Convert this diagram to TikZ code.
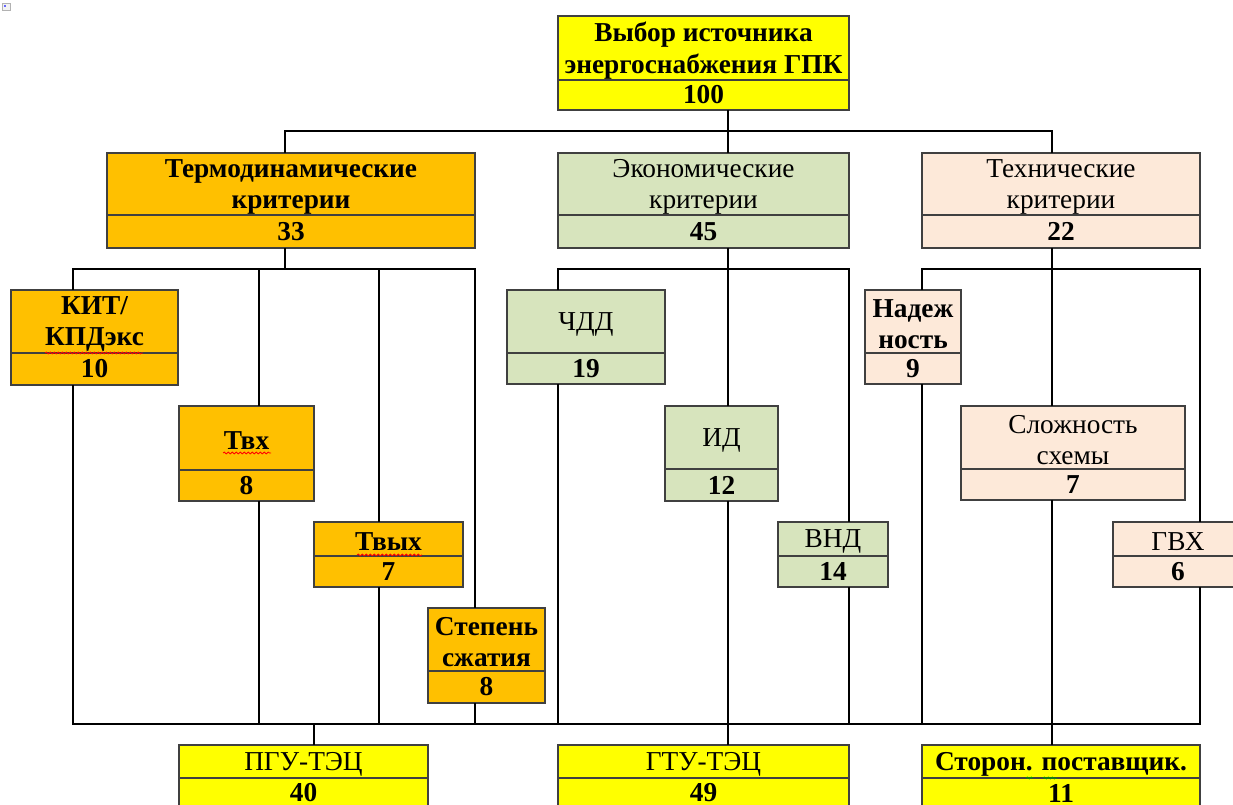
\documentclass[tikz,border=0pt]{standalone}
\usepackage{fontspec}
\setmainfont{Liberation Serif}
\usetikzlibrary{fit,calc,decorations.pathmorphing}
\definecolor{cYel}{HTML}{FFFF00}
\definecolor{cOra}{HTML}{FFC000}
\definecolor{cGre}{HTML}{D7E4BD}
\definecolor{cPea}{HTML}{FDE9D9}
\definecolor{cBrd}{HTML}{404040}
\tikzset{
  boxst/.style={draw=cBrd, line width=1.1pt, inner sep=0pt, outer sep=0pt},
  divst/.style={draw=cBrd, line width=1.1pt},
  txt/.style={align=center, inner sep=0pt, yshift=-2pt, font=\fontsize{20.5}{23.5}\selectfont},
  numst/.style={inner sep=0pt, font=\fontsize{20.5}{23.5}\selectfont\bfseries},
  fY/.style={fill=cYel}, fO/.style={fill=cOra}, fG/.style={fill=cGre}, fP/.style={fill=cPea},
  tb/.style={font=\fontsize{20.5}{23.5}\selectfont\bfseries},
  tm/.style={font=\fontsize{20.5}{23.5}\selectfont},
  link/.style={draw=black, line width=0.8pt},
  squig/.style={draw=#1, line width=0.6pt, decorate, decoration={snake, amplitude=0.7pt, segment length=3pt}}
}
\newcommand\critbox[9]{%
  \node[boxst, #7, fit={(#2,#3) (#4,#5)}] (#1) {};
  \node[txt, #7] (#1-t) at ($(#1.north)!0.5!(#1.north |- 0,#6)$) {#8};
  \node[numst] (#1-n) at ($(#1.south)!0.5!(#1.south |- 0,#6)$) {#9};
  \draw[divst] (#1.west |- 0,#6) -- (#1.east |- 0,#6);
}
\begin{document}
\begin{tikzpicture}[x=0.75pt, y=-0.75pt]
\useasboundingbox[fill=white] (0,0) rectangle (1233,805);
% tiny icon top-left
\draw[draw=gray!60, fill=gray!10, line width=0.3pt] (2,3) rectangle (10,10);
\fill[blue!60] (4,5) rectangle (6,7);
% x and y references
\coordinate (xA) at (73,0);   \coordinate (xB) at (259,0);
\coordinate (xT) at (285,0);  \coordinate (xC) at (379,0);
\coordinate (xD) at (475,0);  \coordinate (xP) at (314,0);
\coordinate (xE1) at (558,0); \coordinate (xE) at (728,0);
\coordinate (xE3) at (849,0); \coordinate (xK1) at (922,0);
\coordinate (xK) at (1052,0); \coordinate (xK3) at (1200,0);
\coordinate (yA) at (0,131);  \coordinate (yB) at (0,269);
\coordinate (yC) at (0,724);
% boxes
\critbox{top}{558}{16}{849}{110}{80}{fY,tb}{Выбор источника\\энергоснабжения ГПК}{100}
\critbox{thermo}{107}{153}{475}{248}{215}{fO,tb}{Термодинамические\\критерии}{33}
\critbox{econ}{558}{153}{849}{248}{215}{fG,tm}{Экономические\\критерии}{45}
\critbox{tech}{922}{153}{1200}{248}{215}{fP,tm}{Технические\\критерии}{22}
\critbox{kit}{11}{290}{178}{385}{353}{fO,tb}{КИТ/\\КПДэкс}{10}
\critbox{tvx}{179}{406}{314}{501}{470}{fO,tb}{Твх}{8}
\critbox{tvyx}{314}{522}{463}{587}{556}{fO,tb}{Твых}{7}
\critbox{stp}{428}{608}{545}{703}{671}{fO,tb}{Степень\\сжатия}{8}
\critbox{chdd}{507}{290}{665}{384}{353}{fG,tm}{ЧДД}{19}
\critbox{id}{665}{406}{778}{501}{469}{fG,tm}{ИД}{12}
\critbox{vnd}{778}{522}{888}{587}{556}{fG,tm}{ВНД}{14}
\critbox{nad}{865}{290}{961}{384}{353}{fP,tb}{Надеж\\ность}{9}
\critbox{slo}{961}{406}{1185}{500}{469}{fP,tm}{Сложность\\схемы}{7}
\critbox{gvx}{1113}{522}{1243}{587}{556}{fP,tm}{ГВХ}{6}
\critbox{pgu}{179}{745}{428}{808}{778}{fY,tm}{ПГУ-ТЭЦ}{40}
\critbox{gtu}{558}{745}{849}{808}{778}{fY,tm}{ГТУ-ТЭЦ}{49}
\critbox{sto}{922}{745}{1200}{808}{778}{fY,tb}{Сторон. поставщик.}{11}
% level 1 -> level 2
\draw[link] (top.south -| xE) -- (xE |- yA);
\draw[link] (thermo.north -| xT) -- (xT |- yA) -- (xK |- yA) -- (tech.north -| xK);
\draw[link] (xE |- yA) -- (econ.north -| xE);
% thermo branch
\draw[link] (thermo.south -| xT) -- (xT |- yB);
\draw[link] (kit.north -| xA) -- (xA |- yB) -- (xD |- yB) -- (stp.north -| xD);
\draw[link] (xB |- yB) -- (tvx.north -| xB);
\draw[link] (xC |- yB) -- (tvyx.north -| xC);
% econ branch
\draw[link] (econ.south -| xE) -- (xE |- yB);
\draw[link] (chdd.north -| xE1) -- (xE1 |- yB) -- (xE3 |- yB) -- (vnd.north -| xE3);
\draw[link] (xE |- yB) -- (id.north -| xE);
% tech branch
\draw[link] (tech.south -| xK) -- (xK |- yB);
\draw[link] (nad.north -| xK1) -- (xK1 |- yB) -- (xK3 |- yB) -- (gvx.north -| xK3);
\draw[link] (xK |- yB) -- (slo.north -| xK);
% down to bottom bus
\draw[link] (kit.south -| xA) -- (xA |- yC) -- (xK3 |- yC) -- (gvx.south -| xK3);
\draw[link] (tvx.south -| xB) -- (xB |- yC);
\draw[link] (tvyx.south -| xC) -- (xC |- yC);
\draw[link] (stp.south -| xD) -- (xD |- yC);
\draw[link] (chdd.south -| xE1) -- (xE1 |- yC);
\draw[link] (id.south -| xE) -- (gtu.north -| xE);
\draw[link] (vnd.south -| xE3) -- (xE3 |- yC);
\draw[link] (nad.south -| xK1) -- (xK1 |- yC);
\draw[link] (slo.south -| xK) -- (sto.north -| xK);
\draw[link] (xP |- yC) -- (pgu.north -| xP);
% spell-check squiggles
\draw[squig=red] (45,353) -- (143,353);
\draw[squig=red] (223,453) -- (271,453);
\draw[squig=red] (357,555) -- (422,555);
\draw[squig=green!60!black] (1026,778) -- (1033,778);
\draw[squig=green!60!black] (1043,778) -- (1057,778);
\end{tikzpicture}
\end{document}
